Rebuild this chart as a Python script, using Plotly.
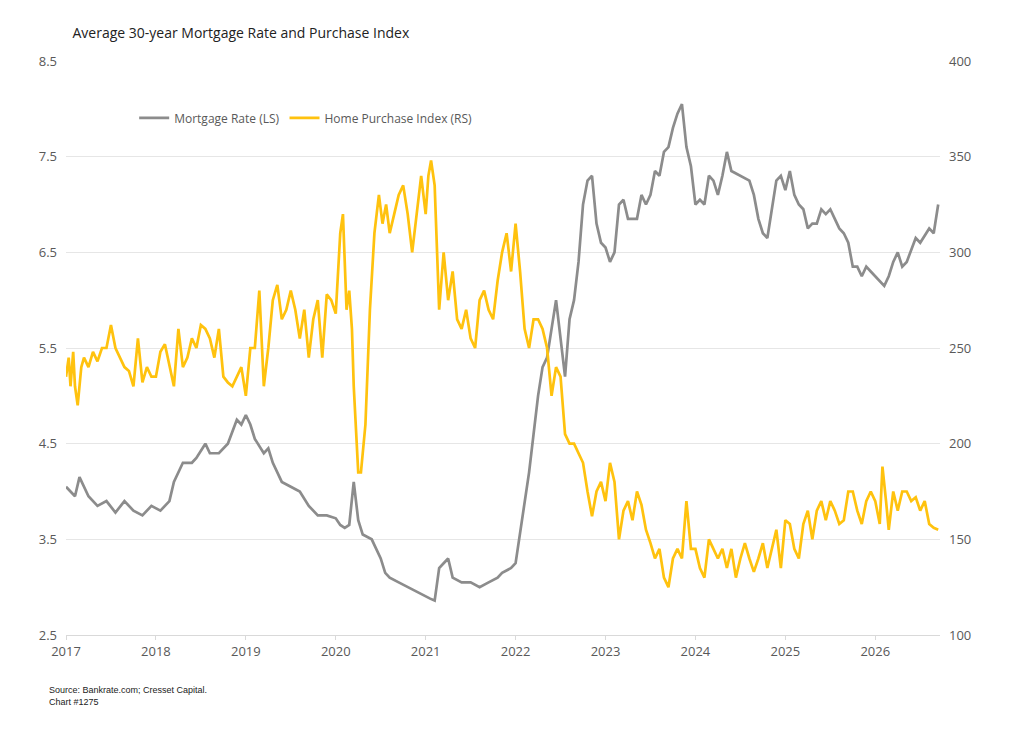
import plotly.graph_objects as go

# Weekly-ish readings taken from the chart (x in fractional years)
rate_x = [2017.0, 2017.05, 2017.1, 2017.15, 2017.25, 2017.35, 2017.45, 2017.55, 2017.65, 2017.75,
          2017.85, 2017.95, 2018.05, 2018.15, 2018.2, 2018.3, 2018.4, 2018.45, 2018.55, 2018.6,
          2018.7, 2018.8, 2018.9, 2018.95, 2019.0, 2019.05, 2019.1, 2019.2, 2019.25, 2019.3,
          2019.4, 2019.5, 2019.6, 2019.7, 2019.8, 2019.9, 2020.0, 2020.05, 2020.1, 2020.15,
          2020.2, 2020.25, 2020.3, 2020.4, 2020.5, 2020.55, 2020.6, 2020.7, 2020.8, 2020.9,
          2021.0, 2021.05, 2021.1, 2021.15, 2021.2, 2021.25, 2021.3, 2021.4, 2021.5, 2021.6,
          2021.7, 2021.8, 2021.85, 2021.95, 2022.0, 2022.05, 2022.1, 2022.15, 2022.2, 2022.25,
          2022.3, 2022.35, 2022.4, 2022.45, 2022.5, 2022.55, 2022.6, 2022.65, 2022.7, 2022.75,
          2022.8, 2022.85, 2022.9, 2022.95, 2023.0, 2023.05, 2023.1, 2023.15, 2023.2, 2023.25,
          2023.3, 2023.35, 2023.4, 2023.45, 2023.5, 2023.55, 2023.6, 2023.65, 2023.7, 2023.75,
          2023.8, 2023.85, 2023.9, 2023.95, 2024.0, 2024.05, 2024.1, 2024.15, 2024.2, 2024.25,
          2024.3, 2024.35, 2024.4, 2024.5, 2024.6, 2024.65, 2024.7, 2024.75, 2024.8, 2024.85,
          2024.9, 2024.95, 2025.0, 2025.05, 2025.1, 2025.15, 2025.2, 2025.25, 2025.3, 2025.35,
          2025.4, 2025.45, 2025.5, 2025.55, 2025.6, 2025.65, 2025.7, 2025.75, 2025.8, 2025.85,
          2025.9, 2025.95, 2026.0, 2026.05, 2026.1, 2026.15, 2026.2, 2026.25, 2026.3, 2026.35,
          2026.45, 2026.5, 2026.6, 2026.65, 2026.7]
rate = [4.05, 4.0, 3.95, 4.15, 3.95, 3.85, 3.9, 3.78, 3.9, 3.8,
        3.75, 3.85, 3.8, 3.9, 4.1, 4.3, 4.3, 4.35, 4.5, 4.4,
        4.4, 4.5, 4.75, 4.7, 4.8, 4.7, 4.55, 4.4, 4.45, 4.3,
        4.1, 4.05, 4.0, 3.85, 3.75, 3.75, 3.72, 3.65, 3.62, 3.65,
        4.1, 3.7, 3.55, 3.5, 3.3, 3.15, 3.1, 3.05, 3.0, 2.95,
        2.9, 2.88, 2.86, 3.2, 3.25, 3.3, 3.1, 3.05, 3.05, 3.0,
        3.05, 3.1, 3.15, 3.2, 3.25, 3.55, 3.9, 4.2, 4.6, 5.0,
        5.3, 5.4, 5.7, 6.0, 5.6, 5.2, 5.8, 6.0, 6.4, 7.0,
        7.25, 7.3, 6.8, 6.6, 6.55, 6.4, 6.5, 7.0, 7.05, 6.85,
        6.85, 6.85, 7.1, 7.0, 7.1, 7.35, 7.3, 7.55, 7.6, 7.8,
        7.95, 8.05, 7.6, 7.4, 7.0, 7.05, 7.0, 7.3, 7.25, 7.1,
        7.3, 7.55, 7.35, 7.3, 7.25, 7.1, 6.85, 6.7, 6.65, 6.95,
        7.25, 7.3, 7.15, 7.35, 7.1, 7.0, 6.95, 6.75, 6.8, 6.8,
        6.95, 6.9, 6.95, 6.85, 6.75, 6.7, 6.6, 6.35, 6.35, 6.25,
        6.35, 6.3, 6.25, 6.2, 6.15, 6.25, 6.4, 6.5, 6.35, 6.4,
        6.65, 6.6, 6.75, 6.7, 7.0]

idx_x = [2017.0, 2017.03, 2017.05, 2017.08, 2017.1, 2017.13, 2017.17, 2017.2, 2017.25, 2017.3,
         2017.35, 2017.4, 2017.45, 2017.5, 2017.55, 2017.6, 2017.65, 2017.7, 2017.75, 2017.8,
         2017.85, 2017.9, 2017.95, 2018.0, 2018.05, 2018.1, 2018.15, 2018.2, 2018.25, 2018.3,
         2018.35, 2018.4, 2018.45, 2018.5, 2018.55, 2018.6, 2018.65, 2018.7, 2018.75, 2018.8,
         2018.85, 2018.9, 2018.95, 2019.0, 2019.05, 2019.1, 2019.15, 2019.2, 2019.25, 2019.3,
         2019.35, 2019.4, 2019.45, 2019.5, 2019.55, 2019.6, 2019.65, 2019.7, 2019.75, 2019.8,
         2019.85, 2019.9, 2019.95, 2020.0, 2020.05, 2020.08, 2020.12, 2020.15, 2020.18, 2020.2,
         2020.25, 2020.28, 2020.33, 2020.38, 2020.43, 2020.48, 2020.52, 2020.56, 2020.6, 2020.65,
         2020.7, 2020.75, 2020.8, 2020.85, 2020.9, 2020.95, 2021.0, 2021.03, 2021.06, 2021.1,
         2021.15, 2021.2, 2021.25, 2021.3, 2021.35, 2021.4, 2021.45, 2021.5, 2021.55, 2021.6,
         2021.65, 2021.7, 2021.75, 2021.8, 2021.85, 2021.9, 2021.95, 2022.0, 2022.05, 2022.1,
         2022.15, 2022.2, 2022.25, 2022.3, 2022.35, 2022.4, 2022.45, 2022.5, 2022.55, 2022.6,
         2022.65, 2022.7, 2022.75, 2022.8, 2022.85, 2022.9, 2022.95, 2023.0, 2023.05, 2023.1,
         2023.15, 2023.2, 2023.25, 2023.3, 2023.35, 2023.4, 2023.45, 2023.5, 2023.55, 2023.6,
         2023.65, 2023.7, 2023.75, 2023.8, 2023.85, 2023.9, 2023.95, 2024.0, 2024.05, 2024.1,
         2024.15, 2024.2, 2024.25, 2024.3, 2024.35, 2024.4, 2024.45, 2024.5, 2024.55, 2024.6,
         2024.65, 2024.7, 2024.75, 2024.8, 2024.85, 2024.9, 2024.95, 2025.0, 2025.05, 2025.1,
         2025.15, 2025.2, 2025.25, 2025.3, 2025.35, 2025.4, 2025.45, 2025.5, 2025.55, 2025.6,
         2025.65, 2025.7, 2025.75, 2025.8, 2025.85, 2025.9, 2025.95, 2026.0, 2026.05, 2026.08,
         2026.12, 2026.15, 2026.2, 2026.25, 2026.3, 2026.35, 2026.4, 2026.45, 2026.5, 2026.55,
         2026.6, 2026.65, 2026.7]
idx = [235, 245, 230, 248, 230, 220, 240, 245, 240, 248,
       243, 250, 250, 262, 250, 245, 240, 238, 230, 255,
       232, 240, 235, 235, 248, 252, 240, 230, 260, 240,
       245, 255, 250, 262, 260, 255, 245, 260, 235, 232,
       230, 235, 240, 225, 250, 250, 280, 230, 250, 275,
       283, 265, 270, 280, 270, 255, 270, 245, 265, 275,
       245, 278, 275, 268, 310, 320, 270, 280, 260, 230,
       185, 185, 210, 270, 310, 330, 315, 325, 310, 320,
       330, 335, 320, 300, 320, 340, 320, 340, 348, 335,
       270, 300, 275, 290, 265, 260, 270, 255, 250, 275,
       280, 270, 265, 285, 300, 310, 290, 315, 290, 260,
       250, 265, 265, 260, 250, 225, 240, 235, 205, 200,
       200, 195, 190, 175, 162, 175, 180, 170, 190, 180,
       150, 165, 170, 160, 175, 168, 155, 148, 140, 145,
       130, 125, 140, 145, 140, 170, 145, 145, 135, 130,
       150, 145, 140, 145, 135, 145, 130, 140, 148, 140,
       133, 140, 148, 135, 145, 155, 135, 160, 158, 145,
       140, 158, 165, 150, 165, 170, 160, 170, 165, 158,
       160, 175, 175, 165, 158, 170, 175, 170, 158, 188,
       170, 155, 175, 165, 175, 175, 170, 172, 165, 170,
       158, 156, 155]

year_ticks = list(range(2017, 2027))
left_ticks = [2.5, 3.5, 4.5, 5.5, 6.5, 7.5, 8.5]
right_ticks = [100, 150, 200, 250, 300, 350, 400]

fig = go.Figure()
fig.add_trace(go.Scatter(x=rate_x, y=rate, name="Mortgage Rate (LS)", mode="lines",
                         line=dict(color="#8c8c8c", width=2.7)))
fig.add_trace(go.Scatter(x=idx_x, y=idx, name="Home Purchase Index (RS)", mode="lines",
                         line=dict(color="#ffc20e", width=2.7), yaxis="y2"))

fig.update_layout(
    width=1008, height=728,
    paper_bgcolor="white", plot_bgcolor="white",
    margin=dict(l=58, r=76, t=53, b=101, autoexpand=False),
    font=dict(family="Open Sans, sans-serif", color="#595959", size=13),
    title=dict(text="Average 30-year Mortgage Rate and Purchase Index", x=0.064, y=0.966,
               yanchor="middle", xanchor="left", font=dict(size=14, color="#222222")),
    showlegend=True,
    legend=dict(orientation="h", x=0.078, y=0.901, xanchor="left", yanchor="middle",
                font=dict(size=12, color="#595959"), bgcolor="rgba(0,0,0,0)"),
    xaxis=dict(range=[2017, 2026.72], tickvals=year_ticks, ticktext=[str(y) for y in year_ticks],
               showgrid=False, showline=True, linecolor="#d9d9d9", ticks="outside",
               ticklen=4, tickcolor="#d9d9d9", zeroline=False, automargin=False),
    yaxis=dict(range=[2.5, 8.5], tickvals=left_ticks, tickformat=".1f", gridcolor="#e6e6e6",
               zeroline=False, ticks="", ticklabelstandoff=8, automargin=False),
    yaxis2=dict(range=[100, 400], tickvals=right_ticks, overlaying="y", side="right",
                showgrid=False, zeroline=False, ticklabelstandoff=8, automargin=False),
    annotations=[dict(text="Source: Bankrate.com; Cresset Capital.<br>Chart #1275",
                      xref="paper", yref="paper", x=-0.022, y=-0.084, xanchor="left",
                      yanchor="top", showarrow=False, align="left",
                      font=dict(family="Liberation Sans, sans-serif", size=9, color="#222222"))],
)

fig.write_html("out.html")
